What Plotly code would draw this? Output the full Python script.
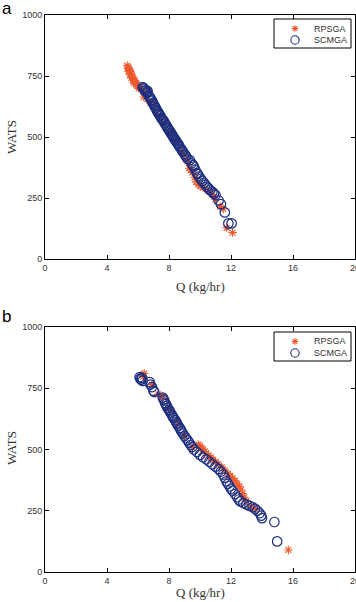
import plotly.graph_objects as go

# ---------------- data ----------------
top_scmga_q = [6.30,6.34,6.40,6.45,6.50,6.55,6.60,6.62,6.70,6.75,6.80,6.85,6.90,6.95,7.00,7.05,7.10,7.15,7.20,7.25,
               7.30,7.35,7.40,7.45,7.50,7.55,7.60,7.65,7.70,7.75,7.80,7.85,7.90,7.95,8.00,8.05,8.10,8.15,8.20,8.25,
               8.30,8.35,8.40,8.45,8.50,8.55,8.60,8.65,8.70,8.80,8.85,8.90,9.00,9.05,9.10,9.20,9.35,9.45,9.55,9.60,
               9.70,9.80,9.85,9.95,10.05,10.15,10.25,10.35,10.45,10.55,10.65,10.80,10.90,11.00,11.20,11.35,11.60,11.83,12.04]
top_scmga_w = [705,700,698,690,692,684,680,688,668,664,660,652,648,640,635,628,625,618,610,606,
               600,596,590,586,578,574,570,566,560,555,548,545,538,534,528,524,518,514,508,504,
               498,494,488,484,478,474,470,464,458,450,444,440,430,425,420,410,405,392,385,378,
               366,352,348,338,328,320,312,304,296,290,282,275,268,262,240,225,191,146,146]

top_rpsga_q = [5.30,5.35,5.40,5.38,5.45,5.50,5.48,5.55,5.60,5.58,5.65,5.70,5.75,5.72,5.80,5.85,5.90,5.95,6.00,6.05,
               6.10,6.20,6.30,6.37,6.45,6.60,6.80,7.00,7.30,7.60,8.00,8.40,8.80,9.00,9.20,9.30,9.40,9.50,9.65,9.75,
               9.90,10.00,10.20,10.50,10.80,11.00,11.30,11.50,11.72,12.10]
top_rpsga_w = [792,786,780,770,775,768,755,762,750,742,745,738,732,722,728,720,715,708,712,700,
               705,698,690,664,675,655,640,625,590,560,520,480,440,425,400,372,365,355,335,316,
               305,300,292,280,265,245,215,205,128,108]

bot_scmga_q = [6.10,6.15,6.20,6.25,6.30,6.75,6.80,6.90,7.00,7.05,7.60,7.65,7.70,7.75,7.80,7.85,7.90,8.00,8.05,8.10,
               8.20,8.25,8.30,8.40,8.45,8.50,8.55,8.60,8.70,8.75,8.80,8.90,9.00,9.10,9.20,9.30,9.40,9.50,9.60,9.80,
               10.00,10.20,10.40,10.60,10.80,11.00,11.20,11.35,11.50,11.60,11.70,11.80,11.90,12.00,12.10,12.25,12.40,12.50,12.60,12.80,
               13.00,13.20,13.40,13.55,13.70,13.85,13.95,14.00,14.80,14.98]
bot_scmga_w = [795,790,785,792,780,775,765,755,740,735,712,705,700,690,685,678,670,662,656,650,
               640,634,628,620,614,608,602,596,588,582,574,565,555,546,538,528,518,510,500,490,
               478,468,460,450,440,430,420,410,398,385,370,360,350,340,332,318,305,296,288,282,
               276,270,264,258,250,240,230,220,204,125]

bot_rpsga_q = [6.30,6.40,6.35,6.90,7.30,7.60,8.00,8.50,9.00,9.50,9.90,10.00,10.10,10.20,10.30,10.40,10.55,10.70,10.85,11.00,
               11.20,11.40,11.60,11.80,11.95,12.10,12.25,12.40,12.55,12.65,12.75,12.85,13.00,13.30,13.60,15.70]
bot_rpsga_w = [805,810,798,765,725,715,665,612,556,508,520,515,505,500,492,485,475,468,458,450,
               440,428,415,402,392,382,372,360,348,335,320,305,290,265,255,90]

x_ticks = [0, 4, 8, 12, 16, 20]
y_ticks = [0, 250, 500, 750, 1000]
series_names = ["RPSGA", "SCMGA"]
panel_labels = ["a", "b"]

RED = "#ec5a2c"
NAVY = "#1e2f7e"
SANS = "Liberation Sans, Arial, sans-serif"
TICKFONT = dict(family=SANS, size=9, color="#333333")
TITLEFONT = dict(family="Liberation Serif, Times New Roman, serif", size=13, color="#333333")

fig = go.Figure()

def add_panel(rq, rw, sq, sw, xa, ya):
    fig.add_trace(go.Scatter(x=rq, y=rw, mode="markers", name=series_names[0],
                             xaxis=xa, yaxis=ya, showlegend=False,
                             marker=dict(symbol="asterisk-open", size=7, color=RED,
                                         line=dict(color=RED, width=1.1))))
    fig.add_trace(go.Scatter(x=sq, y=sw, mode="markers", name=series_names[1],
                             xaxis=xa, yaxis=ya, showlegend=False,
                             marker=dict(symbol="circle-open", size=9.5, color=NAVY,
                                         line=dict(color=NAVY, width=1.2))))

add_panel(top_rpsga_q, top_rpsga_w, top_scmga_q, top_scmga_w, "x", "y")
add_panel(bot_rpsga_q, bot_rpsga_w, bot_scmga_q, bot_scmga_w, "x2", "y2")

W, H = 356, 602
ML, MR, MT, MB = 45, 1, 15, 30
PW = W - ML - MR
PH = H - MT - MB
def py(px):
    return (H - MB - px) / PH
def px_x(px):
    return (px - ML) / PW

axis_common = dict(showgrid=False, zeroline=False, showline=True, linecolor="black", linewidth=1,
                   mirror="ticks", ticks="inside", ticklen=4, tickcolor="black", tickfont=TICKFONT,
                   ticklabeloverflow="allow", automargin=False)

fig.update_layout(
    width=W, height=H, margin=dict(l=ML, r=MR, t=MT, b=MB, autoexpand=False),
    paper_bgcolor="white", plot_bgcolor="white",
    xaxis=dict(domain=[0, 1], range=[0, 20], tickvals=x_ticks, anchor="y", **axis_common),
    yaxis=dict(domain=[py(259), 1], range=[0, 1000], tickvals=y_ticks, anchor="x", **axis_common),
    xaxis2=dict(domain=[0, 1], range=[0, 20], tickvals=x_ticks, anchor="y2", **axis_common),
    yaxis2=dict(domain=[0, py(327)], range=[0, 1000], tickvals=y_ticks, anchor="x2", **axis_common),
    showlegend=False,
)

# ---- compact legend boxes (decoration, pixel layout) ----
shapes = []
ann = []
for box_top in [19, 332]:
    shapes.append(dict(type="rect", xref="paper", yref="paper",
                       x0=px_x(274), x1=px_x(351), y0=py(box_top), y1=py(box_top + 29),
                       line=dict(color="black", width=1), fillcolor="white", layer="above"))
    row1, row2 = box_top + 9.5, box_top + 21
    cx = 295
    r = 3.3
    d = r * 0.7071
    segs = [((cx - r, row1), (cx + r, row1)), ((cx, row1 - r), (cx, row1 + r)),
            ((cx - d, row1 - d), (cx + d, row1 + d)), ((cx - d, row1 + d), (cx + d, row1 - d))]
    path = " ".join(f"M{px_x(a[0]):.5f},{py(a[1]):.5f} L{px_x(b[0]):.5f},{py(b[1]):.5f}" for a, b in segs)
    shapes.append(dict(type="path", xref="paper", yref="paper", path=path,
                       line=dict(color=RED, width=1.1), layer="above"))
    rc = 4.2
    shapes.append(dict(type="circle", xref="paper", yref="paper",
                       x0=px_x(cx - rc), x1=px_x(cx + rc), y0=py(row2 + rc), y1=py(row2 - rc),
                       line=dict(color=NAVY, width=1.1), layer="above"))
    for name, rowy in zip(series_names, [row1, row2]):
        ann.append(dict(text=name, x=px_x(312), xanchor="left", y=py(rowy), yanchor="middle",
                        xref="paper", yref="paper", showarrow=False,
                        font=dict(family=SANS, size=9, color="#333333")))

for lab, ycen in zip(panel_labels, [8, 316]):
    ann.append(dict(text=lab, x=px_x(0), xanchor="left", y=py(ycen), yanchor="middle",
                    xref="paper", yref="paper", showarrow=False,
                    font=dict(family=SANS, size=17, color="black")))
for ycen in [137, 448]:
    ann.append(dict(text="WATS", x=px_x(11), xanchor="center", y=py(ycen), yanchor="middle",
                    xref="paper", yref="paper", showarrow=False, textangle=-90, font=TITLEFONT))
for ycen in [286, 592]:
    ann.append(dict(text="Q (kg/hr)", x=0.5, xanchor="center", y=py(ycen), yanchor="middle",
                    xref="paper", yref="paper", showarrow=False, font=TITLEFONT))
fig.update_layout(annotations=ann, shapes=shapes)

fig.write_html("out.html")
